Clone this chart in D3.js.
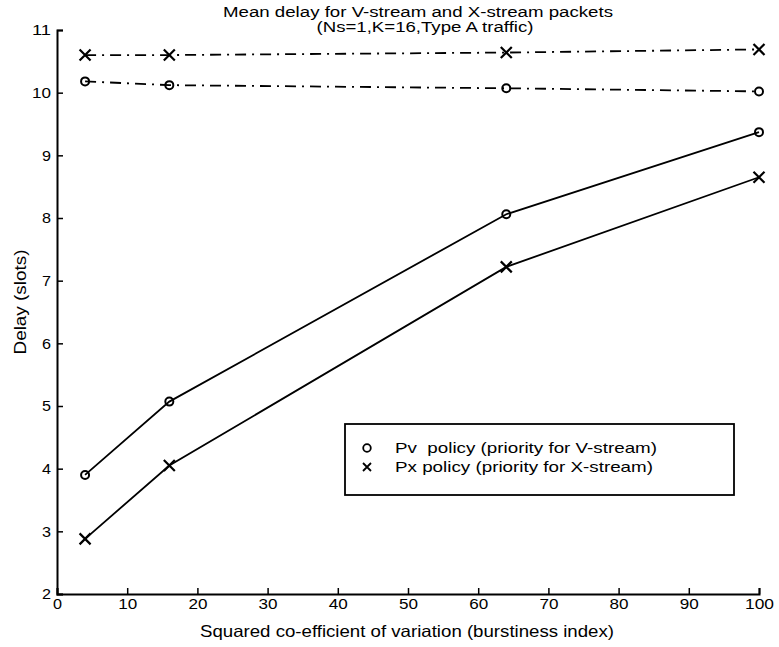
<!DOCTYPE html>
<html>
<head>
<meta charset="utf-8">
<script src="https://cdn.jsdelivr.net/npm/d3@7"></script>
<style>
  body { margin: 0; background: #fff; }
  text { font-family: "Liberation Sans", Arial, sans-serif; fill: #000; }
</style>
</head>
<body>
<svg id="chart" width="779" height="647"></svg>
<script>
// burstiness index values (x) and mean delays
var xValues = [4, 16, 64, 100];
var pvDelayV = [10.18, 10.12, 10.07, 10.02];   // dash-dot, circles
var pxDelayV = [10.6, 10.6, 10.64, 10.69];     // dash-dot, crosses
var pvDelayX = [3.9, 5.07, 8.06, 9.37];        // solid, circles
var pxDelayX = [2.88, 4.05, 7.22, 8.65];       // solid, crosses
var xTicks = [0, 10, 20, 30, 40, 50, 60, 70, 80, 90, 100];
var yTicks = [2, 3, 4, 5, 6, 7, 8, 9, 10, 11];
var legendLabels = ["Pv  policy (priority for V-stream)", "Px policy (priority for X-stream)"];

var svg = d3.select("#chart");

var x = d3.scaleLinear().domain([0, 100]).range([57, 759]);
var y = d3.scaleLinear().domain([2, 11]).range([594, 30]);

// the scanned original uses a wide sans; stretch text horizontally to match
function stretch(sel, len) {
  sel.attr("textLength", len).attr("lengthAdjust", "spacingAndGlyphs");
}

// axes, ticks pointing inward
var xAxis = d3.axisBottom(x).tickValues(xTicks).tickSize(-6).tickPadding(3);
var yAxis = d3.axisLeft(y).tickValues(yTicks).tickSize(-6).tickPadding(6);

var gx = svg.append("g").attr("transform", "translate(0," + y(2) + ")").call(xAxis);
var gy = svg.append("g").attr("transform", "translate(" + x(0) + ",0)").call(yAxis);
[gx, gy].forEach(function (g) {
  g.select(".domain").attr("stroke", "#000").attr("stroke-width", 2);
  g.selectAll(".tick line").attr("stroke", "#000").attr("stroke-width", 1.5);
  g.selectAll(".tick text")
      .attr("font-size", 15.5)
      .attr("font-family", "Liberation Sans, Arial, sans-serif")
      .each(function (d) { stretch(d3.select(this), String(d).length * 10 - 1); });
});
gx.selectAll(".tick text").attr("dy", "0.75em");

// titles and labels
stretch(svg.append("text").attr("x", 418).attr("y", 17).attr("text-anchor", "middle")
    .attr("font-size", 14).text("Mean delay for V-stream and X-stream packets"), 390);
stretch(svg.append("text").attr("x", 425).attr("y", 32).attr("text-anchor", "middle")
    .attr("font-size", 14).text("(Ns=1,K=16,Type A traffic)"), 217);
stretch(svg.append("text").attr("x", 407).attr("y", 637).attr("text-anchor", "middle")
    .attr("font-size", 16.5).text("Squared co-efficient of variation (burstiness index)"), 414);
stretch(svg.append("text").attr("transform", "translate(26,302) rotate(-90)").attr("text-anchor", "middle")
    .attr("font-size", 16.5).text("Delay (slots)"), 105);

var line = d3.line()
    .x(function (d) { return x(d[0]); })
    .y(function (d) { return y(d[1]); });

var series = [
  { values: pvDelayV, marker: "o", dash: "11,6,2,6" },
  { values: pxDelayV, marker: "x", dash: "11,6,2,6" },
  { values: pvDelayX, marker: "o", dash: null },
  { values: pxDelayX, marker: "x", dash: null }
];

function drawMarker(g, type, cx, cy) {
  if (type === "o") {
    g.append("circle").attr("cx", cx).attr("cy", cy).attr("r", 4)
        .attr("fill", "none").attr("stroke", "#000").attr("stroke-width", 2);
  } else {
    var s = 5.5;
    g.append("path")
        .attr("d", "M" + (cx - s) + "," + (cy - s) + "L" + (cx + s) + "," + (cy + s) +
                   "M" + (cx - s) + "," + (cy + s) + "L" + (cx + s) + "," + (cy - s))
        .attr("stroke", "#000").attr("stroke-width", 2.2);
  }
}

series.forEach(function (s) {
  var pts = xValues.map(function (v, i) { return [v, s.values[i]]; });
  var g = svg.append("g");
  g.append("path").datum(pts)
      .attr("d", line)
      .attr("fill", "none")
      .attr("stroke", "#000")
      .attr("stroke-width", 1.8)
      .attr("stroke-dasharray", s.dash);
  pts.forEach(function (p) { drawMarker(g, s.marker, x(p[0]), y(p[1])); });
});

// legend
var lg = svg.append("g");
lg.append("rect").attr("x", 345).attr("y", 424).attr("width", 389).attr("height", 71)
    .attr("fill", "#fff").attr("stroke", "#000").attr("stroke-width", 1.8);
["o", "x"].forEach(function (m, i) {
  var ly = 448 + i * 19;
  if (m === "o") {
    lg.append("circle").attr("cx", 367).attr("cy", ly).attr("r", 3.8)
        .attr("fill", "none").attr("stroke", "#000").attr("stroke-width", 1.8);
  } else {
    lg.append("path").attr("d", "M363," + (ly - 4) + "L371," + (ly + 4) + "M363," + (ly + 4) + "L371," + (ly - 4))
        .attr("stroke", "#000").attr("stroke-width", 1.8);
  }
  stretch(lg.append("text").attr("x", 395).attr("y", ly + 5).attr("font-size", 15)
      .attr("xml:space", "preserve").style("white-space", "pre").text(legendLabels[i]),
      i === 0 ? 262 : 258);
});
</script>
</body>
</html>
